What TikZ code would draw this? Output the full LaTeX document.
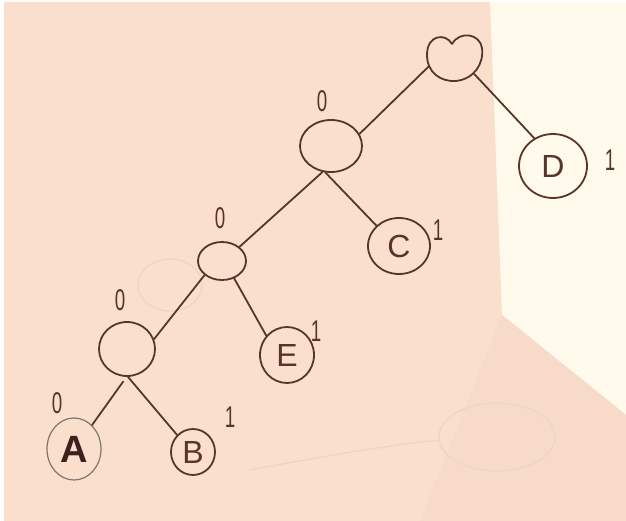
\documentclass[tikz,border=0pt]{standalone}
\usepackage{fontspec}
\usepackage{graphicx}
\setmainfont{Liberation Sans}
\usetikzlibrary{shapes.geometric}

\definecolor{paper}{RGB}{250,224,204}
\definecolor{papershade}{RGB}{247,218,200}
\definecolor{wall}{RGB}{255,250,236}
\definecolor{ink}{RGB}{88,52,42}
\definecolor{darkink}{RGB}{62,32,28}
\definecolor{pencil}{RGB}{128,116,110}
\definecolor{ghost}{RGB}{238,214,196}

\newcommand{\handdigit}[1]{\scalebox{0.75}[1.2]{#1}}

\tikzset{
  vertex/.style={ellipse, draw=ink, line width=1.8pt, inner sep=0pt},
  leaf/.style={vertex, font=\fontsize{32}{32}\selectfont, text=ink},
  bit/.style={font=\fontsize{25}{25}\selectfont, text=ink, inner sep=0pt},
  edge/.style={draw=ink, line width=1.8pt, line cap=round},
  faint/.style={draw=ghost, line width=1.4pt, line cap=round}
}

\begin{document}
\begin{tikzpicture}[x=1pt, y=-1pt]
  % page and paper
  \useasboundingbox (0,0) rectangle (626,521);
  \fill[white] (0,0) rectangle (626,521);
  \fill[wall] (490,2) rectangle (626,521);
  \fill[paper] (4,2) -- (490,2) -- (502,315) -- (626,415) -- (626,521) -- (4,521) -- cycle;
  \fill[papershade] (502,315) -- (626,415) -- (626,521) -- (420,521) -- cycle;

  % pencil traces showing through from the back of the sheet
  \draw[faint] (170,285) ellipse[x radius=32, y radius=26];
  \draw[faint] (497,437) ellipse[x radius=58, y radius=34];
  \draw[faint] (250,470) .. controls (330,455) and (390,445) .. (440,440);

  % internal vertices
  \node[ellipse, minimum width=56pt, minimum height=48pt] (root) at (454,57) {};
  \draw[ink, line width=1.8pt, line cap=round]
    (452,44) .. controls (446,33) and (427,34) .. (427,55)
    .. controls (427,72) and (440,82) .. (456,81)
    .. controls (474,79) and (484,64) .. (482,48)
    .. controls (480,34) and (460,30) .. (452,44);
  \node[vertex, minimum width=62pt, minimum height=52pt] (n1) at (331,146) {};
  \node[vertex, minimum width=48pt, minimum height=38pt] (n2) at (222,261) {};
  \node[vertex, minimum width=56pt, minimum height=54pt] (n3) at (127,349) {};

  % leaves
  \node[leaf, draw=pencil, line width=1.2pt, minimum width=54pt, minimum height=62pt,
        text=darkink, font=\fontsize{38}{38}\selectfont\bfseries] (A) at (74,449) {A};
  \node[leaf, minimum width=44pt, minimum height=46pt] (B) at (193,452) {B};
  \node[leaf, minimum width=62pt, minimum height=56pt] (C) at (399,246) {C};
  \node[leaf, minimum width=68pt, minimum height=64pt] (D) at (553,166) {D};
  \node[leaf, minimum width=54pt, minimum height=56pt] (E) at (287,355) {E};

  % branches
  \draw[edge] (root.201) -- (n1.23);
  \draw[edge] (root.320) -- (D.124);
  \draw[edge] (n1.252) -- (n2.39);
  \draw[edge] (n1.258) -- (C.138);
  \draw[edge] (n2.219) -- (n3.20);
  \draw[edge] (n2.305) -- (E.137);
  \draw[edge] ([yshift=-5pt]n3.262) -- (A.53);
  \draw[edge] (n3.272) -- (B.133);

  % branch bits
  \node[bit] (b1) at (322,101) {\handdigit{0}};
  \node[bit] (b2) at (220,218) {\handdigit{0}};
  \node[bit] (b3) at (120,300) {\handdigit{0}};
  \node[bit] (b4) at (57,403) {\handdigit{0}};
  \node[bit] (b5) at (610,160) {\handdigit{1}};
  \node[bit] (b6) at (438,230) {\handdigit{1}};
  \node[bit] (b7) at (316,331) {\handdigit{1}};
  \node[bit] (b8) at (230,417) {\handdigit{1}};
\end{tikzpicture}
\end{document}
